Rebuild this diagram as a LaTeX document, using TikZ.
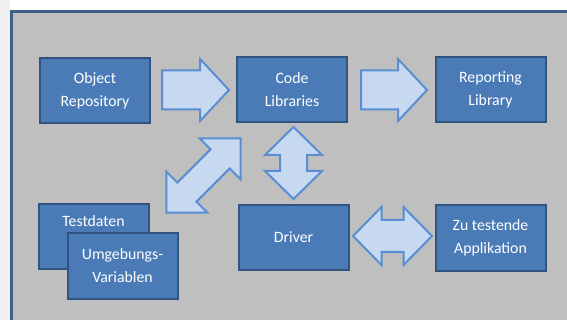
\documentclass[tikz,border=0pt]{standalone}
\usepackage{fontspec}
\setmainfont{Carlito}
\definecolor{panelgray}{HTML}{BFBFBF}
\definecolor{panelborder}{HTML}{3D5F88}
\definecolor{boxfill}{HTML}{4A7BB7}
\definecolor{boxborder}{HTML}{30547F}
\definecolor{arrfill}{HTML}{C6D9F1}
\definecolor{arrborder}{HTML}{5A8ED2}
\tikzset{
  blk/.style={draw=boxborder, fill=boxfill, line width=2pt, minimum width=110pt,
    minimum height=65pt, inner sep=0pt, text=white, align=center,
    font=\fontsize{15.8}{23}\selectfont},
  arr/.style={draw=arrborder, fill=arrfill, line width=2pt, line join=miter}
}
% centre x, centre y, angle, length, head length, head half width, body half width
\newcommand\dblblkarrow[7]{%
  \begin{scope}[shift={(#1,#2)},rotate=#3]
    \draw[arr] ({-#4/2},0) -- ({-#4/2+#5},{#6}) -- ({-#4/2+#5},{#7}) -- ({#4/2-#5},{#7})
      -- ({#4/2-#5},{#6}) -- ({#4/2},0) -- ({#4/2-#5},{-#6}) -- ({#4/2-#5},{-#7})
      -- ({-#4/2+#5},{-#7}) -- ({-#4/2+#5},{-#6}) -- cycle;
  \end{scope}}
\newcommand\sglblkarrow[7]{%
  \begin{scope}[shift={(#1,#2)},rotate=#3]
    \draw[arr] ({-#4/2},{#7}) -- ({#4/2-#5},{#7}) -- ({#4/2-#5},{#6}) -- ({#4/2},0)
      -- ({#4/2-#5},{-#6}) -- ({#4/2-#5},{-#7}) -- ({-#4/2},{-#7}) -- cycle;
  \end{scope}}
\begin{document}
\begin{tikzpicture}[x=1pt,y=-1pt]
\useasboundingbox (0,0) rectangle (567,320);
\fill[white] (0,0) rectangle (567,320);
\fill[black!6] (0,0) rectangle (10,320);
\draw[draw=panelborder, fill=panelgray, line width=3pt] (11.5,11.5) rectangle (580,335);

\node[blk] (obj) at (95,90.5) {Object\\Repository};
\node[blk] (code) at (292,90) {Code\\Libraries};
\node[blk] (rep) at (490.5,90) {Reporting\\Library};
\node[blk, text height=23pt, text depth=42pt, minimum height=0pt] (test) at (93.5,236.5) {Testdaten};
\node[blk] (umg) at (122.5,266) {Umgebungs-\\Variablen};
\node[blk] (drv) at (293.5,237.5) {Driver};
\node[blk] (app) at (490.5,238) {Zu testende\\Applikation};

\sglblkarrow{195.5}{90}{0}{67}{29}{31}{19.5}
\sglblkarrow{394}{90}{0}{66}{29}{31}{19.5}
\dblblkarrow{293.5}{163}{90}{72}{28}{28.5}{13.5}
\dblblkarrow{392.5}{236}{0}{79}{28.5}{29}{16}
\dblblkarrow{203.5}{175.5}{45}{105}{29}{29}{13.5}
\end{tikzpicture}
\end{document}
